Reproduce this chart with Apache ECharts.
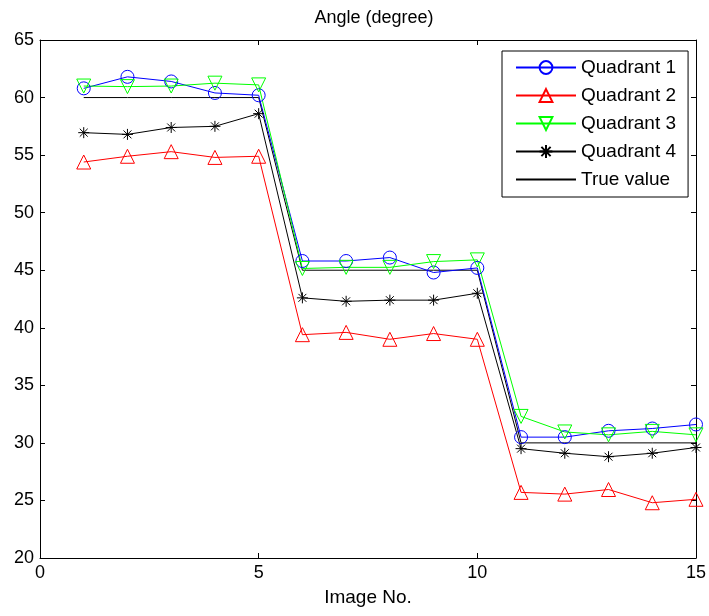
<!DOCTYPE html>
<html>
<head>
<meta charset="utf-8">
<script src="https://cdn.jsdelivr.net/npm/echarts@6/dist/echarts.min.js"></script>
<style>
  html, body { margin: 0; padding: 0; background: #fff; }
  #chart { width: 709px; height: 616px; }
</style>
</head>
<body>
<div id="chart"></div>
<script>
// Image numbers along the horizontal axis
const imageNo = [1, 2, 3, 4, 5, 6, 7, 8, 9, 10, 11, 12, 13, 14, 15];

// Measured angle per quadrant (degrees)
const quadrant1 = [60.8, 61.8, 61.4, 60.4, 60.2, 45.8, 45.8, 46.1, 44.8, 45.2, 30.5, 30.5, 31.05, 31.25, 31.6];
const quadrant2 = [54.4, 54.9, 55.3, 54.8, 54.9, 39.4, 39.6, 39.0, 39.5, 39.0, 25.7, 25.55, 25.95, 24.8, 25.1];
const quadrant3 = [61.0, 60.95, 61.0, 61.25, 61.1, 45.15, 45.25, 45.25, 45.75, 45.9, 32.3, 30.95, 30.7, 31.0, 30.7];
const quadrant4 = [56.95, 56.8, 57.4, 57.5, 58.6, 42.6, 42.3, 42.4, 42.4, 43.0, 29.5, 29.1, 28.8, 29.1, 29.6];
const trueValue = [60, 60, 60, 60, 60, 45, 45, 45, 45, 45, 30, 30, 30, 30, 30];

const seriesNames = ['Quadrant 1', 'Quadrant 2', 'Quadrant 3', 'Quadrant 4', 'True value'];

const xTicks = { min: 0, max: 15, interval: 5 };
const yTicks = { min: 20, max: 65, interval: 5 };

const FONT = '"Liberation Sans", Arial, Helvetica, sans-serif';

const pairs = vals => vals.map((v, i) => [imageNo[i], v]);

const markerStyle = color => ({
  color: 'rgba(255,255,255,0)',
  borderColor: color,
  borderWidth: 1
});

const asterisk = 'path://M0,-5L0,5M-5,0L5,0M-3.6,-3.6L3.6,3.6M-3.6,3.6L3.6,-3.6';
const downTriangle = 'path://M-1,-0.866L1,-0.866L0,0.866Z';

function quadSeries(name, vals, color, symbol, size) {
  return {
    name: name,
    type: 'line',
    data: pairs(vals),
    symbol: symbol,
    symbolSize: size,
    showAllSymbol: true,
    lineStyle: { color: color, width: 1 },
    itemStyle: markerStyle(color),
    emphasis: { disabled: true },
    z: 3
  };
}

const frameAxis = {
  axisLine: { show: true, onZero: false, lineStyle: { color: '#000', width: 1 } },
  axisTick: { show: true, inside: true, length: 5, lineStyle: { color: '#000' } },
  splitLine: { show: false }
};

const legendData = seriesNames.map(name =>
  name === 'True value' ? { name: name, itemStyle: { opacity: 0 } } : { name: name }
);

const chart = echarts.init(document.getElementById('chart'), null, { renderer: 'canvas' });

chart.setOption({
  animation: false,
  backgroundColor: '#fff',
  title: {
    text: 'Angle (degree)',
    left: 369,
    textAlign: 'center',
    top: 4,
    textStyle: { fontFamily: FONT, fontSize: 18, fontWeight: 'normal', color: '#000' }
  },
  grid: { left: 40, right: 12, top: 40, bottom: 58, containLabel: false },
  legend: {
    orient: 'vertical',
    left: 502,
    top: 51,
    padding: [7, 12, 8, 13],
    itemWidth: 60,
    itemHeight: 16,
    itemGap: 9,
    backgroundColor: '#fff',
    borderColor: '#000',
    borderWidth: 1,
    data: legendData,
    textStyle: { fontFamily: FONT, fontSize: 19, color: '#000' }
  },
  xAxis: [
    Object.assign({
      type: 'value',
      min: xTicks.min, max: xTicks.max, interval: xTicks.interval,
      name: 'Image No.',
      nameLocation: 'middle',
      nameGap: 30,
      nameTextStyle: { fontFamily: FONT, fontSize: 19, color: '#000' },
      axisLabel: { fontFamily: FONT, fontSize: 18, color: '#000', margin: 6 }
    }, frameAxis),
    Object.assign({
      type: 'value', position: 'top',
      min: xTicks.min, max: xTicks.max, interval: xTicks.interval,
      axisLabel: { show: false }
    }, frameAxis)
  ],
  yAxis: [
    Object.assign({
      type: 'value',
      min: yTicks.min, max: yTicks.max, interval: yTicks.interval,
      axisLabel: { fontFamily: FONT, fontSize: 18, color: '#000', margin: 6 }
    }, frameAxis),
    Object.assign({
      type: 'value', position: 'right',
      min: yTicks.min, max: yTicks.max, interval: yTicks.interval,
      axisLabel: { show: false }
    }, frameAxis)
  ],
  series: [
    quadSeries(seriesNames[0], quadrant1, '#0000ff', 'circle', 13),
    quadSeries(seriesNames[1], quadrant2, '#ff0000', 'triangle', 14),
    quadSeries(seriesNames[2], quadrant3, '#00ff00', downTriangle, 14),
    quadSeries(seriesNames[3], quadrant4, '#000000', asterisk, 11),
    {
      name: seriesNames[4],
      type: 'line',
      data: pairs(trueValue),
      symbol: 'none',
      lineStyle: { color: '#000', width: 1 },
      itemStyle: { color: '#000' },
      emphasis: { disabled: true },
      z: 2
    }
  ]
});
</script>
</body>
</html>
